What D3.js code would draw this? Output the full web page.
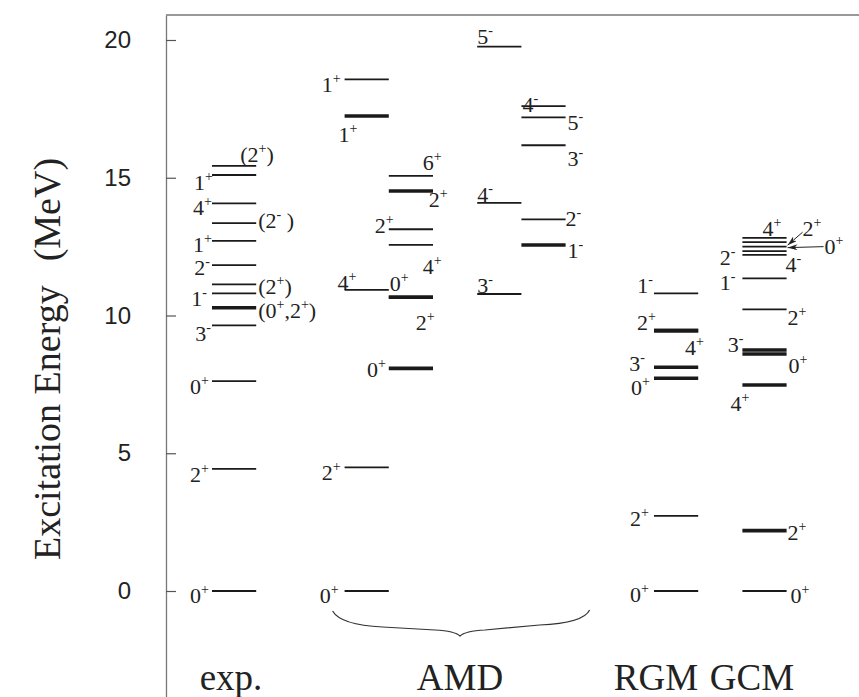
<!doctype html>
<html>
<head>
<meta charset="utf-8">
<title>12C level scheme</title>
<style>
  body { margin: 0; background: #fff; }
  svg { display: block; }
  .tick text { font-family: "Liberation Sans", Arial, sans-serif; font-size: 24px; fill: #222; }
  .serif { font-family: "Liberation Serif", "Times New Roman", serif; fill: #222; }
</style>
</head>
<body>
<div id="chart"></div>
<script src="https://cdn.jsdelivr.net/npm/d3@7/dist/d3.min.js"></script>
<script>
// group names under the columns
var groupNames = ["exp.", "AMD", "RGM", "GCM"];
var tickValues = [0, 5, 10, 15, 20];

// levels: excitation energy (MeV) and spin-parity
var expE  = [0, 4.43, 7.62, 9.64, 10.28, 10.8, 11.13, 11.83, 12.71, 13.35, 14.07, 15.1, 15.43];
var expJ  = ["0+", "2+", "0+", "3-", "(0+,2+)", "1-", "(2+)", "2-", "1+", "(2- )", "4+", "1+", "(2+)"];
var amd1E = [0, 4.49, 10.93, 17.24, 18.57];
var amd1J = ["0+", "2+", "4+", "1+", "1+"];
var amd2E = [8.08, 10.66, 10.66, 12.56, 13.13, 14.52, 15.07];
var amd2J = ["0+", "0+", "2+", "4+", "2+", "2+", "6+"];
var amd3E = [10.78, 14.09, 19.76];
var amd3J = ["3-", "4-", "5-"];
var amd4E = [12.56, 13.49, 16.18, 17.19, 17.6];
var amd4J = ["1-", "2-", "3-", "5-", "4-"];
var rgmE  = [0, 2.73, 7.72, 8.12, 9.45, 9.45, 10.8];
var rgmJ  = ["0+", "2+", "0+", "3-", "2+", "4+", "1-"];
var gcmE  = [0, 2.19, 7.48, 8.6, 8.75, 10.22, 11.35, 12.2, 12.34, 12.5, 12.66, 12.82];
var gcmJ  = ["0+", "2+", "4+", "0+", "3-", "2+", "1-", "2-", "4-", "0+", "2+", "4+"];

// layout: slot of each column, label placement [anchor, ref(0=left end,1=right end), dx, dy]
var columns = [
  { E: expE, J: expJ, slot: 0, thick: [4], place: [
    ["end",0,-3,12],["end",0,-3,13],["end",0,-3,13],["end",0,-1,16],["start",1,2,10],["end",0,-5,13],
    ["start",1,2,10],["end",0,-2,10],["end",0,0,11],["start",1,2,5],["end",0,0,12],["end",0,1,15],["start",1,-16,-4]] },
  { E: amd1E, J: amd1J, slot: 3, thick: [3], place: [
    ["end",0,-6,12],["end",0,-4,13],["start",0,-7,0],["start",0,-6,26],["end",0,-4,13]] },
  { E: amd2E, J: amd2J, slot: 4, thick: [0,1,2,5], place: [
    ["end",0,-3,9],["start",0,1,-6],["start",0,27,33],["start",0,34,29],["start",0,-14,4],["start",0,40,16],["start",0,34,-6]] },
  { E: amd3E, J: amd3J, slot: 6, thick: [], place: [
    ["start",0,0,-1],["start",0,0,-1],["start",0,0,-3]] },
  { E: amd4E, J: amd4J, slot: 7, thick: [0], place: [
    ["start",1,2,13],["start",1,0,7],["start",1,2,21],["start",1,2,13],["start",0,1,6]] },
  { E: rgmE, J: rgmJ, slot: 10, thick: [2,3,4,5], place: [
    ["end",0,-5,11],["end",0,-5,10],["end",0,-4,17],["end",0,-9,4],["start",0,-17,-1],["start",0,31,24],["end",0,-1,0]] },
  { E: gcmE, J: gcmJ, slot: 12, thick: [1,2,3,4], place: [
    ["start",1,4,12],["start",1,1,9],["start",0,-12,26],["start",1,2,19],["end",0,1,2],["start",1,1,16],
    ["end",0,-7,12],["end",0,-7,10],["start",1,-1,21],["start",1,38,7],["start",1,16,-6],["start",0,20,-2]],
    arrows: { 9: [37, 0, 1, 1], 10: [16, -10, 1, 3] } }
];

var groupX = [231, 460, 656, 752];

var width = 859, height = 697;
var svg = d3.select("#chart").append("svg").attr("width", width).attr("height", height);

var y = d3.scaleLinear().domain([0, 20]).range([591, 40]);
var yFull = y.copy().domain([y.invert(697), y.invert(15)]).range([697, 15]);
var xs = d3.scaleLinear().domain([0, 12]).range([212, 742.4]);
var axisX = 166;

svg.append("defs").append("marker")
  .attr("id", "ah").attr("viewBox", "0 0 10 6").attr("refX", 10).attr("refY", 3)
  .attr("markerWidth", 10).attr("markerHeight", 6).attr("markerUnits", "userSpaceOnUse")
  .attr("orient", "auto")
  .append("path").attr("d", "M0,0L10,3L0,6L3,3Z").attr("fill", "#222");

// axis
var axis = svg.append("g").attr("transform", "translate(" + axisX + ",0)")
  .call(d3.axisLeft(yFull).tickValues(tickValues).tickSizeInner(-10).tickSizeOuter(0).tickPadding(35));
axis.select(".domain").attr("stroke", "#777").attr("stroke-width", 1.3);
axis.selectAll(".tick line").attr("stroke", "#555").attr("stroke-width", 1.2);

svg.append("line").attr("x1", axisX).attr("x2", width).attr("y1", yFull(yFull.domain()[1])).attr("y2", yFull(yFull.domain()[1]))
  .attr("stroke", "#777").attr("stroke-width", 1.3);

svg.append("text").attr("class", "serif")
  .attr("transform", "translate(60," + 359 + ") rotate(-90)")
  .attr("text-anchor", "middle").style("font-size", "38px")
  .text("Excitation Energy")
  .append("tspan").attr("dx", 24).text("(MeV)");

function addLabel(g, txt, x, yy, anchor) {
  var t = g.append("text").attr("class", "serif").attr("x", x).attr("y", yy)
    .attr("text-anchor", anchor).style("font-size", "22px");
  var parts = txt.match(/[+-]|[^+-]+/g);
  var up = false;
  parts.forEach(function(p) {
    var sup = (p === "+" || p === "-");
    var ts = t.append("tspan").text(p);
    if (sup) {
      ts.style("font-size", "14px");
      if (!up) { ts.attr("dy", -9); up = true; }
    } else if (up) {
      ts.attr("dy", 9); up = false;
    }
  });
}

columns.forEach(function(c) {
  var g = svg.append("g");
  var x0 = xs(c.slot), x1 = xs(c.slot + 1);
  g.selectAll("line.lvl").data(c.E).enter().append("line")
    .attr("class", "lvl")
    .attr("x1", x0).attr("x2", x1)
    .attr("y1", function(d) { return y(d); }).attr("y2", function(d) { return y(d); })
    .attr("stroke", "#1a1a1a")
    .attr("stroke-width", function(d, i) { return c.thick.indexOf(i) >= 0 ? 3.6 : 1.8; });
  c.E.forEach(function(e, i) {
    var p = c.place[i];
    var ref = p[1] ? x1 : x0;
    addLabel(g, c.J[i], ref + p[2], y(e) + p[3], p[0]);
    if (c.arrows && c.arrows[i]) {
      var a = c.arrows[i];
      g.append("line").attr("x1", x1 + a[0]).attr("y1", y(e) + a[1])
        .attr("x2", x1 + a[2]).attr("y2", y(e) + a[3])
        .attr("stroke", "#222").attr("stroke-width", 1).attr("marker-end", "url(#ah)");
    }
  });
});

// brace under the AMD columns
var bx0 = xs(3) - 12, bx1 = xs(8) + 24, bm = 460, by = 611;
svg.append("path")
  .attr("d", "M" + bx0 + "," + by + " Q" + (bx0 + 8) + "," + (by + 14) + " " + (bx0 + 50) + "," + (by + 16)
    + " L" + (bm - 25) + "," + (by + 19) + " Q" + (bm - 5) + "," + (by + 20) + " " + bm + "," + (by + 25)
    + " Q" + (bm + 5) + "," + (by + 20) + " " + (bm + 25) + "," + (by + 19)
    + " L" + (bx1 - 50) + "," + (by + 14) + " Q" + (bx1 - 6) + "," + (by + 12) + " " + bx1 + "," + (by - 1))
  .attr("fill", "none").attr("stroke", "#333").attr("stroke-width", 1.2);

svg.selectAll("text.grp").data(groupNames).enter().append("text")
  .attr("class", "serif grp")
  .attr("x", function(d, i) { return groupX[i]; }).attr("y", 690)
  .attr("text-anchor", "middle").style("font-size", "37px")
  .text(function(d) { return d; });
</script>
</body>
</html>
